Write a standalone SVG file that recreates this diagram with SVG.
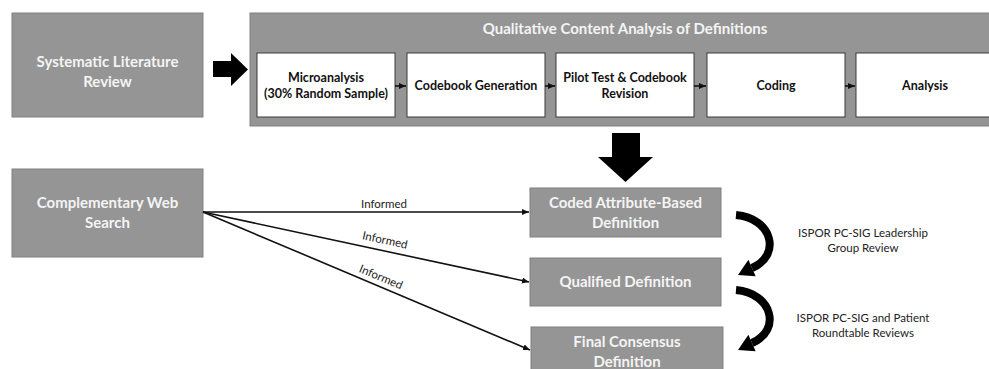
<svg xmlns="http://www.w3.org/2000/svg" width="989" height="369" viewBox="0 0 989 369">
<style>
.g{fill:#959595;stroke:#808080;stroke-width:1}
.w{fill:#ffffff;stroke:#3a3a3a;stroke-width:1}
.tw{font-family:Lato,"Open Sans",sans-serif;font-weight:bold;fill:#f4f4f4;font-size:15px;text-anchor:middle}
.tb{font-family:Lato,"Open Sans",sans-serif;font-weight:bold;fill:#111;font-size:12.5px;text-anchor:middle}
.tn{font-family:Lato,"Open Sans",sans-serif;fill:#222;font-size:11.5px;text-anchor:middle}
.ln{stroke:#111;stroke-width:1.6;fill:none}
.cv{stroke:#000;stroke-width:8;fill:none}
</style>
<defs>
<marker id="ah" markerWidth="8" markerHeight="8" refX="7" refY="4" orient="auto" markerUnits="userSpaceOnUse">
<path d="M0,1 L7,4 L0,7 Z" fill="#111"/>
</marker>
</defs>
<rect width="989" height="369" fill="#fff"/>

<g id="slr">
<rect class="g" x="12" y="13" width="191" height="104"/>
<text class="tw" x="107.5" y="67">Systematic Literature</text>
<text class="tw" x="107.5" y="87">Review</text>
</g>

<g id="qca">
<rect class="g" x="250" y="13" width="760" height="113"/>
<text class="tw" x="625" y="34">Qualitative Content Analysis of Definitions</text>
</g>
<g id="micro">
<rect class="w" x="257" y="53" width="138" height="64"/>
<text class="tb" x="326" y="82">Microanalysis</text>
<text class="tb" x="326" y="98">(30% Random Sample)</text>
</g>
<g id="codegen">
<rect class="w" x="407" y="53" width="138" height="64"/>
<text class="tb" x="476" y="90">Codebook Generation</text>
</g>
<g id="pilot">
<rect class="w" x="556" y="53" width="138" height="64"/>
<text class="tb" x="625" y="82">Pilot Test &amp; Codebook</text>
<text class="tb" x="625" y="98">Revision</text>
</g>
<g id="coding">
<rect class="w" x="707" y="53" width="138" height="64"/>
<text class="tb" x="776" y="90">Coding</text>
</g>
<g id="analysis">
<rect class="w" x="856" y="53" width="138" height="64"/>
<text class="tb" x="925" y="90">Analysis</text>
</g>

<g id="cws">
<rect class="g" x="12" y="169" width="191" height="88"/>
<text class="tw" x="107.5" y="208">Complementary Web</text>
<text class="tw" x="107.5" y="228">Search</text>
</g>

<g id="coded">
<rect class="g" x="530" y="188" width="191" height="49"/>
<text class="tw" x="625.5" y="208">Coded Attribute-Based</text>
<text class="tw" x="625.5" y="228">Definition</text>
</g>
<g id="qualified">
<rect class="g" x="530" y="258" width="191" height="48"/>
<text class="tw" x="625.5" y="287">Qualified Definition</text>
</g>
<g id="final">
<rect class="g" x="531" y="327" width="192" height="60"/>
<text class="tw" x="627" y="347">Final Consensus</text>
<text class="tw" x="627" y="367">Definition</text>
</g>

<g id="connectors">
<polygon points="213,61 231,61 231,53 248,69.5 231,86 231,77 213,77" fill="#000"/>
<polygon points="612,133 640,133 640,157 653,157 625.5,182 598,157 612,157" fill="#000"/>
<line class="ln" x1="395" y1="86" x2="406" y2="86" marker-end="url(#ah)"/>
<line class="ln" x1="545" y1="86" x2="555" y2="86" marker-end="url(#ah)"/>
<line class="ln" x1="694" y1="86" x2="706" y2="86" marker-end="url(#ah)"/>
<line class="ln" x1="845" y1="86" x2="855" y2="86" marker-end="url(#ah)"/>
<line class="ln" x1="203" y1="212" x2="529" y2="212" marker-end="url(#ah)"/>
<line class="ln" x1="203" y1="212" x2="529" y2="282" marker-end="url(#ah)"/>
<line class="ln" x1="203" y1="212" x2="530" y2="350" marker-end="url(#ah)"/>
<text class="tn" x="384" y="208">Informed</text>
<text class="tn" x="385" y="244" transform="rotate(12.1 385 240)">Informed</text>
<text class="tn" x="381" y="281" transform="rotate(22.8 381 277)">Informed</text>
<path class="cv" d="M736,215 C772,218 782,255 752,268"/>
<polygon points="738,275 748.4,259.7 755.6,276.3" fill="#000"/>
<path class="cv" d="M736,290 C772,293 782,330 752,343"/>
<polygon points="738,350 748.4,334.7 755.6,351.3" fill="#000"/>
<text class="tn" x="863" y="237">ISPOR PC-SIG Leadership</text>
<text class="tn" x="863" y="252">Group Review</text>
<text class="tn" x="863" y="322">ISPOR PC-SIG and Patient</text>
<text class="tn" x="863" y="337">Roundtable Reviews</text>
</g>
</svg>
